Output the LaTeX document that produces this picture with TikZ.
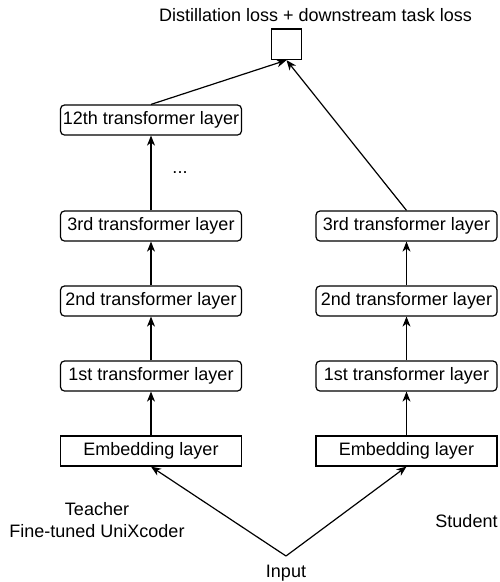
\documentclass[tikz,border=0pt]{standalone}
\usepackage{fontspec}
\setmainfont{Liberation Sans}
\usetikzlibrary{arrows.meta}
\begin{document}
\begin{tikzpicture}[x=1pt,y=-1pt,
  every node/.style={font=\fontsize{18}{21.6}\selectfont},
  layer/.style={draw,line width=1.2pt,rounded corners=4pt,minimum width=181pt,minimum height=30pt,inner sep=0pt},
  embed/.style={draw,line width=1.2pt,minimum width=181pt,minimum height=30pt,inner sep=0pt},
  lbl/.style={inner sep=0pt,align=center},
  conn/.style={line width=1.2pt,-{Stealth[length=10pt,width=8pt,inset=3pt]}}]
\useasboundingbox (0,0) rectangle (500,582);
% teacher column
\node[embed] (te) at (151,451) {Embedding layer};
\node[layer] (t1) at (151,376) {1st transformer layer};
\node[layer] (t2) at (151,301) {2nd transformer layer};
\node[layer] (t3) at (151,226) {3rd transformer layer};
\node[layer] (t12) at (151,120) {12th transformer layer};
\node[lbl] (dots) at (180,173) {...};
% student column
\node[embed] (se) at (406.5,451) {Embedding layer};
\node[layer] (s1) at (406.5,376) {1st transformer layer};
\node[layer] (s2) at (406.5,301) {2nd transformer layer};
\node[layer] (s3) at (406.5,226) {3rd transformer layer};
% loss
\node[draw,line width=1.2pt,minimum size=30.5pt,inner sep=0pt] (sq) at (286.5,44.3) {};
\node[lbl] (title) at (315.5,15) {Distillation loss + downstream task loss};
% labels
\node[lbl] (teacher) at (97,520) {Teacher\\Fine-tuned UniXcoder};
\node[lbl] (student) at (466.5,521) {Student};
\node[lbl] (input) at (286,573) {Input};
\coordinate (apex) at (286,556);
% connectors
\draw[conn] (apex) -- (te.south);
\draw[conn] (apex) -- (se.south);
\draw[conn] (te.north) -- (t1.south);
\draw[conn] (t1.north) -- (t2.south);
\draw[conn] (t2.north) -- (t3.south);
\draw[conn] (t3.north) -- (t12.south);
\draw[conn] (se.north) -- (s1.south);
\draw[conn] (s1.north) -- (s2.south);
\draw[conn] (s2.north) -- (s3.south);
\draw[conn] (t12.north) -- (sq.south);
\draw[conn] (s3.north) -- (sq.south);
\end{tikzpicture}
\end{document}
